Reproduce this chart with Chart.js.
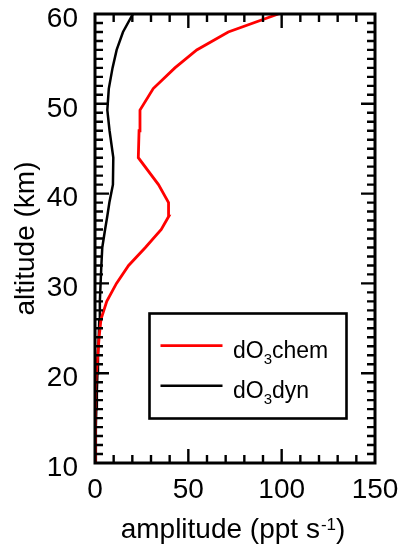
<!DOCTYPE html>
<html>
<head>
<meta charset="utf-8">
<script src="https://cdn.jsdelivr.net/npm/chart.js@4.4.0/dist/chart.umd.min.js"></script>
<style>
  html, body { margin: 0; padding: 0; background: #fff; }
  #wrap { width: 401px; height: 548px; }
</style>
</head>
<body>
<div id="wrap"><canvas id="profileChart" width="401" height="548"></canvas></div>
<script>
// ── Data ───────────────────────────────────────────────────
const altitude = [10, 12, 14, 16, 18, 20, 22, 24, 26, 28, 30, 32, 34, 36, 37.5, 39, 41, 44, 47, 49.3, 51.7, 54, 56, 58, 60];
const chemAmp  = [0.2, 0.2, 0.2, 0.2, 0.3, 0.7, 1.5, 2.2, 3.2, 6.3, 11.5, 18, 27, 35.5, 39.6, 39.4, 34, 23.2, 23.6, 24.1, 31.2, 42.8, 54.5, 71.4, 98.2];
const dynAmp   = [0.3, 0.4, 0.5, 0.7, 1, 1.3, 1.6, 2, 2.3, 2.6, 3, 3.4, 3.9, 5.4, 6.6, 7.7, 9.6, 9.8, 7.8, 6.6, 7.4, 9.4, 11.6, 15, 20.3];
const xTicks   = [0, 50, 100, 150];
const yTicks   = [10, 20, 30, 40, 50, 60];
const seriesNames = [['dO', '3', 'chem'], ['dO', '3', 'dyn']];

const FONT = '"Liberation Sans", Arial, Helvetica, sans-serif';
Chart.defaults.font.family = FONT;
Chart.defaults.color = '#000';

// ── Inside tick marks + frame ──────────────────────────────
const frameTicks = {
  id: 'frameTicks',
  afterDatasetsDraw(chart) {
    const { ctx, chartArea: a, scales: { x, y } } = chart;
    ctx.save();
    ctx.strokeStyle = '#000';
    ctx.lineWidth = 2.4;
    ctx.beginPath();
    for (let v = 10; v < 150; v += 10) {
      const px = x.getPixelForValue(v);
      const len = v % 50 === 0 ? 14 : 8;
      ctx.moveTo(px, a.bottom); ctx.lineTo(px, a.bottom - len);
      ctx.moveTo(px, a.top);    ctx.lineTo(px, a.top + len);
    }
    for (let v = 11; v < 60; v += 1) {
      const py = y.getPixelForValue(v);
      const len = v % 10 === 0 ? 14 : 8;
      ctx.moveTo(a.left, py);  ctx.lineTo(a.left + len, py);
      ctx.moveTo(a.right, py); ctx.lineTo(a.right - len, py);
    }
    ctx.stroke();
    ctx.lineWidth = 3;
    ctx.strokeRect(a.left, a.top, a.right - a.left, a.bottom - a.top);
    ctx.restore();
  }
};

// ── Axis titles (with superscript) ─────────────────────────
const axisTitles = {
  id: 'axisTitles',
  afterDraw(chart) {
    const { ctx, chartArea: a } = chart;
    ctx.save();
    ctx.fillStyle = '#000';
    ctx.textBaseline = 'alphabetic';

    // x title: amplitude (ppt s^-1)
    const main = 'amplitude (ppt s', sup = '-1', close = ')';
    ctx.font = '28px ' + FONT;
    const wMain = ctx.measureText(main).width, wClose = ctx.measureText(close).width;
    ctx.font = '17px ' + FONT;
    const wSup = ctx.measureText(sup).width;
    let tx = (a.left + a.right) / 2 - 2 - (wMain + wSup + wClose + 1) / 2;
    const base = 538;
    ctx.font = '28px ' + FONT;
    ctx.fillText(main, tx, base); tx += wMain + 1;
    ctx.font = '17px ' + FONT;
    ctx.fillText(sup, tx, base - 8); tx += wSup;
    ctx.font = '28px ' + FONT;
    ctx.fillText(close, tx, base);

    // y title: altitude (km)
    ctx.translate(34, (a.top + a.bottom) / 2);
    ctx.rotate(-Math.PI / 2);
    ctx.textAlign = 'center';
    ctx.fillText('altitude (km)', 0, 0);
    ctx.restore();
  }
};

// ── Boxed legend (with subscripts) ─────────────────────────
const boxLegend = {
  id: 'boxLegend',
  afterDraw(chart) {
    const { ctx } = chart;
    ctx.save();
    ctx.strokeStyle = '#000';
    ctx.lineWidth = 2.6;
    ctx.strokeRect(149.5, 313.5, 197, 105);
    chart.data.datasets.forEach((ds, i) => {
      const cy = 345.7 + i * 40;
      ctx.strokeStyle = ds.borderColor;
      ctx.lineWidth = ds.borderWidth;
      ctx.beginPath();
      ctx.moveTo(160.5, cy); ctx.lineTo(222.5, cy);
      ctx.stroke();
      const [pre, sub, post] = seriesNames[i];
      let tx = 233, base = cy + 12.5;
      ctx.fillStyle = '#000';
      ctx.font = '23px ' + FONT;
      ctx.fillText(pre, tx, base); tx += ctx.measureText(pre).width;
      ctx.font = '15px ' + FONT;
      ctx.fillText(sub, tx, base + 6); tx += ctx.measureText(sub).width;
      ctx.font = '23px ' + FONT;
      ctx.fillText(post, tx, base);
    });
    ctx.restore();
  }
};

// ── Profile chart ──────────────────────────────────────────
const ctx = document.getElementById('profileChart').getContext('2d');
const profileChart = new Chart(ctx, {
  type: 'scatter',
  data: {
    datasets: [
      {
        label: seriesNames[0].join(''),
        data: altitude.map((h, i) => ({ x: chemAmp[i], y: h })),
        borderColor: '#ff0000',
        borderWidth: 2.8,
        showLine: true,
        pointRadius: 0,
        tension: 0,
      },
      {
        label: seriesNames[1].join(''),
        data: altitude.map((h, i) => ({ x: dynAmp[i], y: h })),
        borderColor: '#000000',
        borderWidth: 2.5,
        showLine: true,
        pointRadius: 0,
        tension: 0,
      }
    ]
  },
  options: {
    responsive: false,
    animation: false,
    devicePixelRatio: 1,
    layout: { padding: { top: 14, right: 26, left: 0, bottom: 0 } },
    plugins: { legend: { display: false }, tooltip: { enabled: false } },
    scales: {
      x: {
        type: 'linear', min: 0, max: 150,
        grid: { display: false, drawTicks: false },
        border: { display: false },
        afterBuildTicks: s => { s.ticks = xTicks.map(v => ({ value: v })); },
        afterFit: s => { s.height = 85; s.paddingLeft = 0; s.paddingRight = 0; },
        ticks: { font: { size: 28, lineHeight: 1 }, padding: 13, maxRotation: 0, color: '#000' }
      },
      y: {
        type: 'linear', min: 10, max: 60,
        grid: { display: false, drawTicks: false },
        border: { display: false },
        afterBuildTicks: s => { s.ticks = yTicks.map(v => ({ value: v })); },
        afterFit: s => { s.width = 95; s.paddingTop = 0; s.paddingBottom = 0; },
        ticks: { font: { size: 28, lineHeight: 1 }, padding: 17, labelOffset: 5, color: '#000' }
      }
    }
  },
  plugins: [frameTicks, axisTitles, boxLegend]
});
</script>
</body>
</html>
